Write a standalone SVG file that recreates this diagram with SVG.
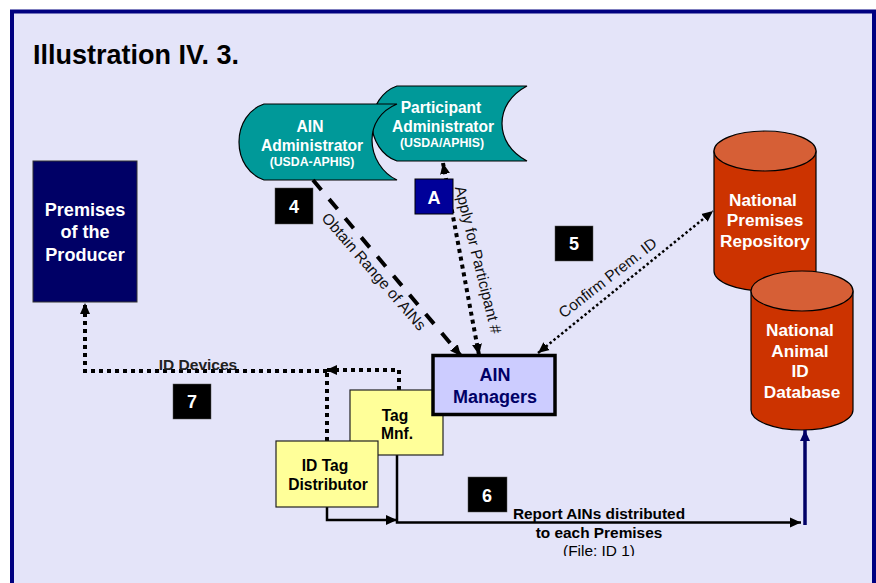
<svg xmlns="http://www.w3.org/2000/svg" width="876" height="583" viewBox="0 0 876 583">
<style>
text{font-family:"Liberation Sans",Arial,sans-serif;font-weight:700;text-anchor:middle}
.n{font-size:15.6px;fill:#fff}
.s{font-size:12.3px;fill:#fff}
.c{font-size:17.2px;fill:#fff}
.p{font-size:18.1px;fill:#fff}
.y{font-size:15.6px;fill:#000}
.m{font-size:18px;fill:#000066}
.num{font-size:18px;fill:#fff}
.lab{font-weight:400;font-size:15.5px;fill:#111}
.rep{font-size:15.4px;fill:#000}
.b{fill:#000;stroke:#555;stroke-width:.5}
.store{fill:#009999;stroke:#000;stroke-width:1.2}
.cyl{fill:#CC3300;stroke:#000;stroke-width:1.2}
.top{fill:#D65F36;stroke:#000;stroke-width:1.2}
.note{fill:#FFFF99;stroke:#222;stroke-width:1.2}
.dot{fill:none;stroke:#000;stroke-width:4;stroke-dasharray:4 4}
.thin{fill:none;stroke:#000;stroke-width:2.5;stroke-dasharray:2.5 2.5}
.solid{fill:none;stroke:#000;stroke-width:2.5}
</style>
<defs>
<marker id="ah" markerUnits="userSpaceOnUse" markerWidth="12" markerHeight="12" refX="11" refY="6" orient="auto-start-reverse"><path d="M0 1 L11 6 L0 11 Z" fill="#000"/></marker>
<marker id="ahb" markerUnits="userSpaceOnUse" markerWidth="12" markerHeight="12" refX="11" refY="6" orient="auto"><path d="M0 1 L11 6 L0 11 Z" fill="#000066"/></marker>
<clipPath id="cut"><rect x="500" y="540" width="200" height="16"/></clipPath>
</defs>
<rect width="876" height="583" fill="#fff"/>
<rect x="12" y="11.500" width="862" height="580" fill="#E4E4F9" stroke="#000080" stroke-width="4"/>
<text x="136" y="64" font-size="27" fill="#000">Illustration IV. 3.</text>

<g id="participant-administrator">
<path class="store" d="M397 86H527C510 95 502 109 502 123.500C502 138 510 152 527 161H397C382 156 372 140 372 123.500C372 107 382 91 397 86Z"/>
<text class="n" x="441" y="113">Participant</text>
<text class="n" x="443" y="132">Administrator</text>
<text class="s" x="442" y="147">(USDA/APHIS)</text>
</g>
<g id="ain-administrator">
<path class="store" d="M264 104H397C380 111 372 125 372 140C372 157 382 173 397 180H264C249 175 239 160 239 142C239 124 249 109 264 104Z"/>
<text class="n" x="310" y="132">AIN</text>
<text class="n" x="312" y="151">Administrator</text>
<text class="s" x="312" y="166">(USDA-APHIS)</text>
</g>
<g id="premises-producer">
<rect x="33" y="161" width="104" height="141" fill="#000066" stroke="#333" stroke-width="1"/>
<text class="p" x="85" y="216">Premises</text>
<text class="p" x="85" y="238">of the</text>
<text class="p" x="85" y="261">Producer</text>
</g>
<g id="national-premises-repository">
<path class="cyl" d="M714 151V271C714 282 737 291 765 291C793 291 816 282 816 271V151Z"/>
<ellipse class="top" cx="765" cy="151" rx="51" ry="20"/>
<text class="c" x="763" y="206">National</text>
<text class="c" x="765" y="226">Premises</text>
<text class="c" x="765" y="247">Repository</text>
</g>
<g id="national-animal-id-database">
<path class="cyl" d="M751 291V410C751 421 774 430 802 430C830 430 853 421 853 410V291Z"/>
<ellipse class="top" cx="802" cy="291" rx="51" ry="20"/>
<text class="c" x="800" y="336">National</text>
<text class="c" x="800" y="357">Animal</text>
<text class="c" x="800" y="377">ID</text>
<text class="c" x="802" y="398">Database</text>
</g>

<g id="connectors">
<path d="M313 180L461 356" fill="none" stroke="#000" stroke-width="4" stroke-dasharray="13 12" marker-end="url(#ah)"/>
<path class="dot" d="M479 355L443 163" marker-start="url(#ah)" marker-end="url(#ah)"/>
<path class="thin" d="M538 353L713 211" marker-start="url(#ah)" marker-end="url(#ah)"/>
<path class="dot" d="M327 371H85V303" marker-end="url(#ah)"/>
<path class="dot" d="M399 390V370H326" marker-end="url(#ah)"/>
<path class="dot" d="M327 441V372"/>
<path class="solid" d="M397 455V522.500H801" marker-end="url(#ah)"/>
<path class="solid" d="M327 507V520H397" marker-end="url(#ah)"/>
<path d="M805 525V430" fill="none" stroke="#000066" stroke-width="3.500" marker-end="url(#ahb)"/>
</g>

<g id="tag-manufacturer">
<rect class="note" x="350" y="390" width="93" height="65"/>
<text class="y" x="395" y="421">Tag</text>
<text class="y" x="397" y="439">Mnf.</text>
</g>
<g id="id-tag-distributor">
<rect class="note" x="276" y="441" width="102" height="66"/>
<text class="y" x="325" y="471">ID Tag</text>
<text class="y" x="328" y="490">Distributor</text>
</g>
<g id="ain-managers">
<rect x="433" y="355.500" width="122" height="59" fill="#CCCCFF" stroke="#000" stroke-width="3.500"/>
<text class="m" x="495" y="381">AIN</text>
<text class="m" x="495" y="403">Managers</text>
</g>

<g id="badges">
<rect class="b" x="275" y="188" width="38" height="36"/><text class="num" x="294" y="213">4</text>
<rect x="415" y="179" width="38" height="35" fill="#000099" stroke="#000" stroke-width="1"/><text x="434" y="204" font-size="18" fill="#fff">A</text>
<rect class="b" x="555" y="226" width="38" height="35"/><text class="num" x="574" y="250">5</text>
<rect class="b" x="468" y="477" width="39" height="35"/><text class="num" x="487" y="502">6</text>
<rect class="b" x="173" y="384" width="38" height="35"/><text class="num" x="192" y="408">7</text>
</g>

<g id="labels">
<text class="lab" transform="translate(370,275) rotate(49)">Obtain Range of AINs</text>
<text class="lab" transform="translate(473,261) rotate(76)">Apply for Participant #</text>
<text class="lab" transform="translate(611,282) rotate(-38)">Confirm Prem. ID</text>
<text x="198" y="370" font-size="15.500" fill="#222">ID Devices</text>
<text class="rep" x="599" y="519">Report AINs distributed</text>
<text class="rep" x="599" y="538">to each Premises</text>
<text class="rep" x="599" y="556" style="font-weight:400" clip-path="url(#cut)">(File: ID 1)</text>
</g>
</svg>
